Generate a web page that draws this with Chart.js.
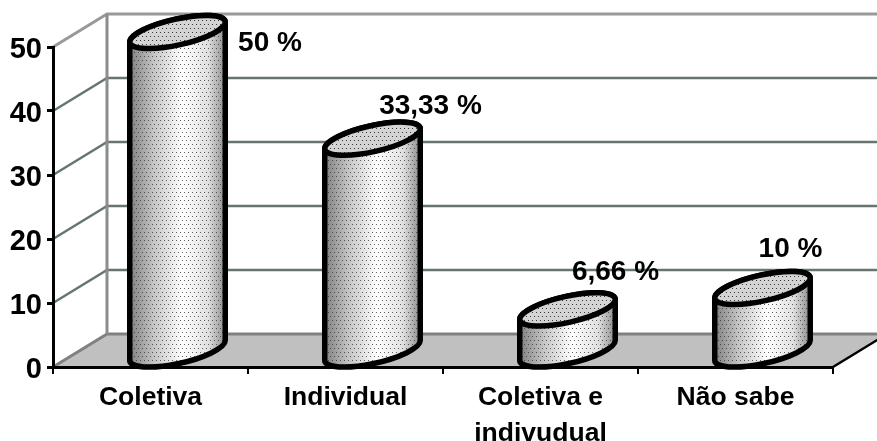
<!DOCTYPE html>
<html>
<head>
<meta charset="utf-8">
<title>Chart</title>
<script src="https://cdn.jsdelivr.net/npm/chart.js@4"></script>
<style>
    html, body { margin: 0; padding: 0; background: #fff; }
    canvas { display: block; }
</style>
</head>
<body>
<canvas id="chart" width="877" height="441"></canvas>
<script>
const categories = ['Coletiva', 'Individual', ['Coletiva e', 'indivudual'], 'Não sabe'];
const values = [50, 33.33, 6.66, 10];
const valueLabels = ['50 %', '33,33 %', '6,66 %', '10 %'];
const yTicks = [0, 10, 20, 30, 40, 50];

// Where each value label sits relative to the top of its bar
const labelOffsets = [[119.5, -4], [85, -47], [75, -52], [55, -54]];

// Fake 3D depth of the box
const depthX = 54;
const depthY = -33;
const tilt = -12.6 * Math.PI / 180;
const ellipseRy = 13;
// bars stand a bit in front of the middle of the floor
const barShiftY = -15;

const fontName = '"Liberation Sans", Arial, sans-serif';

function dotPattern(ctx, color) {
    const c = document.createElement('canvas');
    c.width = 4;
    c.height = 8;
    const p = c.getContext('2d');
    p.fillStyle = color;
    p.fillRect(0, 0, 1, 1);
    p.fillRect(2, 4, 1, 1);
    return ctx.createPattern(c, 'repeat');
}

// Floor, back wall and gridlines go under the axes
const boxPlugin = {
    id: 'box',
    beforeDraw(chart) {
        const ctx = chart.ctx;
        const area = chart.chartArea;
        const y = chart.scales.y;
        const left = area.left, right = area.right, bottom = area.bottom;

        ctx.save();
        ctx.fillStyle = '#fff';
        ctx.fillRect(0, 0, chart.width, chart.height);

        // floor
        ctx.fillStyle = '#c0c0c0';
        ctx.beginPath();
        ctx.moveTo(left, bottom);
        ctx.lineTo(right, bottom);
        ctx.lineTo(right + depthX, bottom + depthY);
        ctx.lineTo(left + depthX, bottom + depthY);
        ctx.closePath();
        ctx.fill();

        // gridlines on side wall and back wall
        yTicks.forEach(t => {
            const py = y.getPixelForValue(t);
            const edge = t === 0 || t === 50;
            ctx.strokeStyle = t === 0 ? '#808080' : (edge ? '#999' : '#66766f');
            ctx.lineWidth = edge ? 3 : 2.5;
            ctx.beginPath();
            ctx.moveTo(left, py);
            ctx.lineTo(left + depthX, py + depthY);
            ctx.lineTo(chart.width, py + depthY);
            ctx.stroke();
        });

        // back corner
        ctx.strokeStyle = '#8c8c8c';
        ctx.lineWidth = 3;
        ctx.beginPath();
        ctx.moveTo(left + depthX, area.top + depthY);
        ctx.lineTo(left + depthX, bottom + depthY);
        ctx.stroke();

        // right edge of the floor
        ctx.strokeStyle = '#000';
        ctx.lineWidth = 2.5;
        ctx.beginPath();
        ctx.moveTo(right, bottom);
        ctx.lineTo(right + depthX, bottom + depthY);
        ctx.stroke();
        ctx.restore();
    }
};

const cylinderPlugin = {
    id: 'cylinders',
    afterDatasetsDraw(chart) {
        const ctx = chart.ctx;
        const meta = chart.getDatasetMeta(0);
        const sideDots = dotPattern(ctx, 'rgba(50,50,50,0.75)');
        const topDots = dotPattern(ctx, 'rgba(30,30,30,0.85)');

        meta.data.forEach((bar, i) => {
            const cx = bar.x + depthX / 2;
            const topY = bar.y + barShiftY;
            const baseY = bar.base + barShiftY;
            const halfW = bar.width / 2 - 1;
            // solve the major radius so that the silhouette is as wide as the bar
            const sin = Math.sin(tilt), cos = Math.cos(tilt);
            const rx = Math.sqrt((halfW * halfW - ellipseRy * ellipseRy * sin * sin) / (cos * cos));
            const tRight = Math.atan2(-ellipseRy * sin, rx * cos);
            const tLeft = tRight + Math.PI;

            const body = () => {
                ctx.beginPath();
                ctx.ellipse(cx, baseY, rx, ellipseRy, tilt, tRight, tLeft, false);
                ctx.ellipse(cx, topY, rx, ellipseRy, tilt, tLeft, tRight + 2 * Math.PI, false);
                ctx.closePath();
            };

            const shade = ctx.createLinearGradient(cx - halfW, 0, cx + halfW, 0);
            shade.addColorStop(0, '#808080');
            shade.addColorStop(0.25, '#c4c4c4');
            shade.addColorStop(0.55, '#ffffff');
            shade.addColorStop(0.82, '#e0e0e0');
            shade.addColorStop(1, '#8c8c8c');

            ctx.save();
            body();
            ctx.fillStyle = shade;
            ctx.fill();
            ctx.fillStyle = sideDots;
            ctx.fill();
            ctx.lineJoin = 'round';
            ctx.strokeStyle = '#000';
            ctx.lineWidth = 5.5;
            ctx.stroke();

            // top face
            ctx.beginPath();
            ctx.ellipse(cx, topY, rx, ellipseRy, tilt, 0, 2 * Math.PI);
            ctx.fillStyle = '#d4d4d4';
            ctx.fill();
            ctx.fillStyle = topDots;
            ctx.fill();
            ctx.stroke();
            ctx.restore();

            // value label
            ctx.save();
            ctx.font = 'bold 28px ' + fontName;
            ctx.fillStyle = '#000';
            ctx.textAlign = 'center';
            ctx.textBaseline = 'middle';
            ctx.fillText(valueLabels[i], bar.x + labelOffsets[i][0], bar.y + labelOffsets[i][1]);
            ctx.restore();
        });
    }
};

new Chart(document.getElementById('chart'), {
    type: 'bar',
    data: {
        labels: categories,
        datasets: [{
            data: values,
            backgroundColor: 'rgba(0,0,0,0)',
            borderWidth: 0,
            categoryPercentage: 1,
            barPercentage: 0.5
        }]
    },
    options: {
        responsive: false,
        animation: false,
        layout: { padding: { top: 47, right: 44 } },
        plugins: { legend: { display: false }, tooltip: { enabled: false } },
        scales: {
            x: {
                afterFit: scale => { scale.height = 74; },
                border: { color: '#000', width: 3 },
                grid: { drawOnChartArea: false, color: '#000', lineWidth: 2, tickLength: 7 },
                ticks: {
                    color: '#000',
                    maxRotation: 0,
                    padding: 6,
                    font: { family: fontName, size: 26.5, weight: 'bold', lineHeight: 1.35 }
                }
            },
            y: {
                min: 0,
                max: 50,
                afterFit: scale => { scale.width = 53; },
                afterBuildTicks: scale => { scale.ticks = yTicks.map(v => ({ value: v })); },
                border: { color: '#000', width: 3 },
                grid: { drawOnChartArea: false, color: '#000', lineWidth: 3, tickLength: 6 },
                ticks: {
                    color: '#000',
                    padding: 5,
                    labelOffset: 3,
                    font: { family: fontName, size: 29, weight: 'bold' }
                }
            }
        }
    },
    plugins: [boxPlugin, cylinderPlugin]
});
</script>
</body>
</html>
